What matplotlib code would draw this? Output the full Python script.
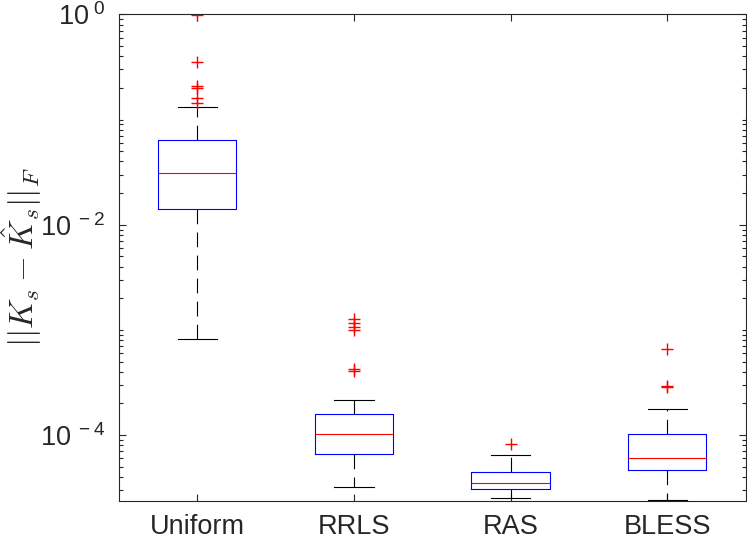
import numpy as np
import matplotlib
matplotlib.use("Agg")
import matplotlib.pyplot as plt

plt.rcParams['font.family'] = ['Liberation Sans', 'DejaVu Sans']
plt.rcParams['mathtext.fontset'] = 'custom'
plt.rcParams['mathtext.rm'] = 'Liberation Sans'
plt.rcParams['mathtext.it'] = 'Liberation Sans:italic'
plt.rcParams['lines.scale_dashes'] = False

# Box statistics (log-scale values)
methods = ["Uniform", "RRLS", "RAS", "BLESS"]
medians = [0.0308, 1.02e-4, 3.51e-5, 6.04e-5]
q1s = [0.0140, 6.64e-5, 3.04e-5, 4.61e-5]
q3s = [0.0641, 1.57e-4, 4.47e-5, 1.02e-4]
whis_lo = [8.27e-4, 3.20e-5, 2.49e-5, 2.39e-5]
whis_hi = [0.131, 2.17e-4, 6.41e-5, 1.78e-4]
outliers = [
    [0.993, 0.357, 0.209, 0.200, 0.162, 0.145],
    [1.27e-3, 1.16e-3, 1.07e-3, 1.0e-3, 4.25e-4, 4.09e-4],
    [8.2e-5],
    [6.59e-4, 2.95e-4, 2.88e-4],
]

stats = []
for i, name in enumerate(methods):
    stats.append(dict(label=name, med=medians[i], q1=q1s[i], q3=q3s[i],
                      whislo=whis_lo[i], whishi=whis_hi[i], fliers=outliers[i]))

dark = '#262626'
fig = plt.figure(figsize=(7.47, 5.39), dpi=100)
ax = fig.add_axes([0.1593, 0.0714, 0.8387, 0.9017])

ax.bxp(stats, positions=[1, 2, 3, 4], widths=0.5,
       boxprops=dict(color='blue', linewidth=0.8),
       medianprops=dict(color='red', linewidth=0.8),
       whiskerprops=dict(color='black', linewidth=0.8, linestyle=(0, (10.6, 6.0))),
       capprops=dict(color='black', linewidth=0.8),
       flierprops=dict(marker='+', markeredgecolor='red', markersize=8.5,
                       markeredgewidth=1.0, linestyle='none'),
       capwidths=0.25)

ax.set_yscale('log')
ax.set_xticks([1, 2, 3, 4])
ax.set_xticklabels(methods)
ax.set_yticks([1e-4, 1e-2, 1e0])
ax.set_yticklabels([r'$\mathdefault{10^{\ -4}}$', r'$\mathdefault{10^{\ -2}}$',
                    r'$\mathdefault{10^{\ 0}}$'])
minor = [k * 10.0**n for n in range(-5, 0) for k in range(1, 10)
         if not (k == 1 and n % 2 == 0)]
ax.set_yticks(minor, minor=True)
ax.yaxis.set_minor_formatter(matplotlib.ticker.NullFormatter())
# limits last, set_yticks would widen them
ax.set_ylim(2.38e-5, 1.0)
ax.set_xlim(0.5, 4.5)

ax.tick_params(which='both', direction='in', top=True, right=True,
               colors=dark, labelsize=19.5, width=0.8)
ax.tick_params(which='major', length=4.7, pad=10)
ax.tick_params(which='minor', length=2.8)
for sp in ax.spines.values():
    sp.set_color(dark)
    sp.set_linewidth(0.8)

ax.set_ylabel(r'$||K_s - \hat{K}_s||_F$', math_fontfamily='cm', fontsize=24,
              color=dark, va='center')
ax.yaxis.set_label_coords(-0.155, 0.5)

fig.savefig('out.png', dpi=100)
